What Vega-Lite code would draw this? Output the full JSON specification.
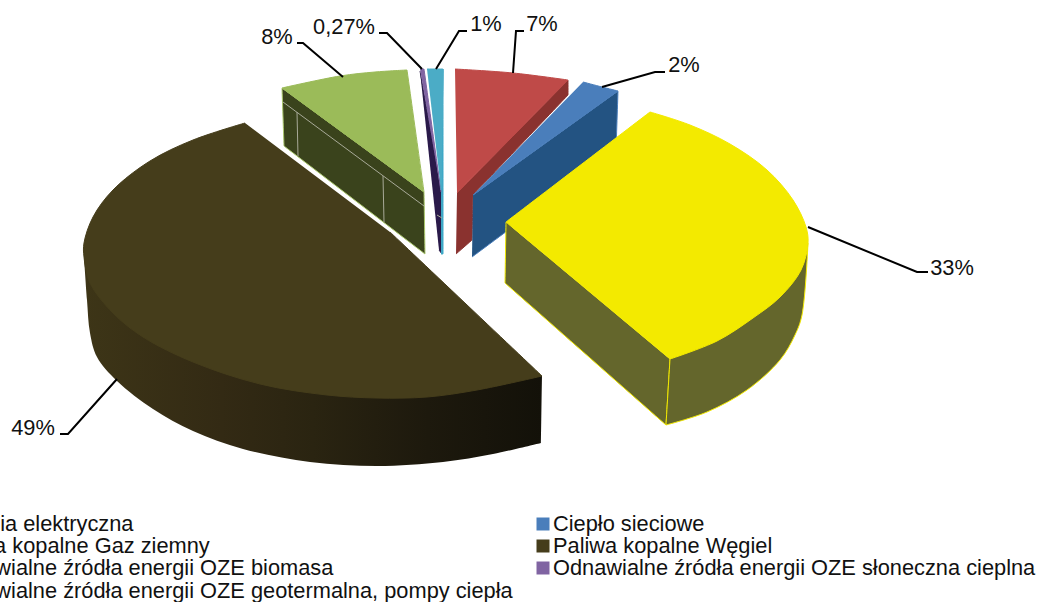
{"$schema":"https://vega.github.io/schema/vega-lite/v6.json","width":1037,"height":602,"padding":0,"autosize":"none","background":"white","config":{"view":{"stroke":null}},
"resolve":{"scale":{"fill":"independent","stroke":"independent"}},
"datasets":{
"shapes":[
{"part":"brownSide","seq":1,"x":84,"y":257},{"part":"brownSide","seq":2,"x":87,"y":300},{"part":"brownSide","seq":3,"x":90,"y":333},{"part":"brownSide","seq":4,"x":97,"y":357},{"part":"brownSide","seq":5,"x":117,"y":381},{"part":"brownSide","seq":6,"x":153,"y":409},{"part":"brownSide","seq":7,"x":193,"y":431},{"part":"brownSide","seq":8,"x":243,"y":449},{"part":"brownSide","seq":9,"x":310,"y":462},{"part":"brownSide","seq":10,"x":377,"y":466},{"part":"brownSide","seq":11,"x":443,"y":462},{"part":"brownSide","seq":12,"x":493,"y":454},{"part":"brownSide","seq":13,"x":541,"y":443},{"part":"brownSide","seq":14,"x":541,"y":443},{"part":"brownSide","seq":15,"x":542,"y":376},{"part":"brownSide","seq":16,"x":542,"y":376},{"part":"brownSide","seq":17,"x":150,"y":300},{"part":"brownSide","seq":18,"x":150,"y":300},
{"part":"brownTop","seq":1,"x":245,"y":123},{"part":"brownTop","seq":2,"x":245,"y":123},{"part":"brownTop","seq":3,"x":193,"y":140},{"part":"brownTop","seq":4,"x":150,"y":161},{"part":"brownTop","seq":5,"x":113,"y":190},{"part":"brownTop","seq":6,"x":93,"y":217},{"part":"brownTop","seq":7,"x":84,"y":243},{"part":"brownTop","seq":8,"x":84,"y":257},{"part":"brownTop","seq":9,"x":90,"y":283},{"part":"brownTop","seq":10,"x":113,"y":313},{"part":"brownTop","seq":11,"x":143,"y":337},{"part":"brownTop","seq":12,"x":193,"y":362},{"part":"brownTop","seq":13,"x":260,"y":384},{"part":"brownTop","seq":14,"x":327,"y":395},{"part":"brownTop","seq":15,"x":377,"y":398},{"part":"brownTop","seq":16,"x":427,"y":397},{"part":"brownTop","seq":17,"x":477,"y":390},{"part":"brownTop","seq":18,"x":542,"y":376},{"part":"brownTop","seq":19,"x":542,"y":376},{"part":"brownTop","seq":20,"x":390,"y":232},{"part":"brownTop","seq":21,"x":390,"y":232},
{"part":"greenSide","seq":1,"x":282,"y":88},{"part":"greenSide","seq":2,"x":282,"y":88},{"part":"greenSide","seq":3,"x":284,"y":146},{"part":"greenSide","seq":4,"x":284,"y":146},{"part":"greenSide","seq":5,"x":425,"y":254},{"part":"greenSide","seq":6,"x":425,"y":254},{"part":"greenSide","seq":7,"x":424,"y":192},{"part":"greenSide","seq":8,"x":424,"y":192},{"part":"greenSide","seq":9,"x":282,"y":88},{"part":"greenSide","seq":10,"x":282,"y":88},
{"part":"greenTop","seq":1,"x":282,"y":88},{"part":"greenTop","seq":2,"x":282,"y":88},{"part":"greenTop","seq":3,"x":340,"y":76},{"part":"greenTop","seq":4,"x":375,"y":72},{"part":"greenTop","seq":5,"x":407,"y":70},{"part":"greenTop","seq":6,"x":407,"y":70},{"part":"greenTop","seq":7,"x":424,"y":192},{"part":"greenTop","seq":8,"x":424,"y":192},{"part":"greenTop","seq":9,"x":282,"y":88},{"part":"greenTop","seq":10,"x":282,"y":88},
{"part":"redSide","seq":1,"x":457,"y":193},{"part":"redSide","seq":2,"x":457,"y":193},{"part":"redSide","seq":3,"x":568,"y":80},{"part":"redSide","seq":4,"x":568,"y":80},{"part":"redSide","seq":5,"x":568,"y":95},{"part":"redSide","seq":6,"x":568,"y":95},{"part":"redSide","seq":7,"x":473,"y":195},{"part":"redSide","seq":8,"x":473,"y":195},{"part":"redSide","seq":9,"x":472,"y":240},{"part":"redSide","seq":10,"x":472,"y":240},{"part":"redSide","seq":11,"x":456,"y":254},{"part":"redSide","seq":12,"x":456,"y":254},
{"part":"redTop","seq":1,"x":455,"y":69},{"part":"redTop","seq":2,"x":455,"y":69},{"part":"redTop","seq":3,"x":513,"y":73},{"part":"redTop","seq":4,"x":568,"y":80},{"part":"redTop","seq":5,"x":568,"y":80},{"part":"redTop","seq":6,"x":457,"y":193},{"part":"redTop","seq":7,"x":457,"y":193},
{"part":"purpleSide","seq":1,"x":420,"y":71},{"part":"purpleSide","seq":2,"x":420,"y":71},{"part":"purpleSide","seq":3,"x":441,"y":190},{"part":"purpleSide","seq":4,"x":441,"y":190},{"part":"purpleSide","seq":5,"x":442,"y":254},{"part":"purpleSide","seq":6,"x":442,"y":254},{"part":"purpleSide","seq":7,"x":439,"y":250},{"part":"purpleSide","seq":8,"x":439,"y":250},
{"part":"cyanSide","seq":1,"x":441,"y":190},{"part":"cyanSide","seq":2,"x":441,"y":190},{"part":"cyanSide","seq":3,"x":443,"y":69},{"part":"cyanSide","seq":4,"x":443,"y":69},{"part":"cyanSide","seq":5,"x":443,"y":254},{"part":"cyanSide","seq":6,"x":443,"y":254},{"part":"cyanSide","seq":7,"x":441,"y":254},{"part":"cyanSide","seq":8,"x":441,"y":254},
{"part":"purpleTop","seq":1,"x":420,"y":69},{"part":"purpleTop","seq":2,"x":420,"y":69},{"part":"purpleTop","seq":3,"x":424,"y":69},{"part":"purpleTop","seq":4,"x":424,"y":69},{"part":"purpleTop","seq":5,"x":441,"y":192},{"part":"purpleTop","seq":6,"x":441,"y":192},
{"part":"cyanTop","seq":1,"x":427,"y":69},{"part":"cyanTop","seq":2,"x":427,"y":69},{"part":"cyanTop","seq":3,"x":443,"y":69},{"part":"cyanTop","seq":4,"x":443,"y":69},{"part":"cyanTop","seq":5,"x":441,"y":190},{"part":"cyanTop","seq":6,"x":441,"y":190},
{"part":"blueSide","seq":1,"x":473,"y":195},{"part":"blueSide","seq":2,"x":473,"y":195},{"part":"blueSide","seq":3,"x":618,"y":91},{"part":"blueSide","seq":4,"x":618,"y":91},{"part":"blueSide","seq":5,"x":616,"y":150},{"part":"blueSide","seq":6,"x":616,"y":150},{"part":"blueSide","seq":7,"x":472,"y":257},{"part":"blueSide","seq":8,"x":472,"y":257},
{"part":"blueTop","seq":1,"x":583,"y":82},{"part":"blueTop","seq":2,"x":583,"y":82},{"part":"blueTop","seq":3,"x":602,"y":87},{"part":"blueTop","seq":4,"x":618,"y":91},{"part":"blueTop","seq":5,"x":618,"y":91},{"part":"blueTop","seq":6,"x":473,"y":195},{"part":"blueTop","seq":7,"x":473,"y":195},
{"part":"yellowLeft","seq":1,"x":506,"y":222},{"part":"yellowLeft","seq":2,"x":506,"y":222},{"part":"yellowLeft","seq":3,"x":505,"y":283},{"part":"yellowLeft","seq":4,"x":505,"y":283},{"part":"yellowLeft","seq":5,"x":666,"y":425},{"part":"yellowLeft","seq":6,"x":666,"y":425},{"part":"yellowLeft","seq":7,"x":670,"y":359},{"part":"yellowLeft","seq":8,"x":670,"y":359},{"part":"yellowLeft","seq":9,"x":506,"y":222},{"part":"yellowLeft","seq":10,"x":506,"y":222},
{"part":"yellowRight","seq":1,"x":670,"y":359},{"part":"yellowRight","seq":2,"x":670,"y":359},{"part":"yellowRight","seq":3,"x":666,"y":425},{"part":"yellowRight","seq":4,"x":666,"y":425},{"part":"yellowRight","seq":5,"x":707,"y":412},{"part":"yellowRight","seq":6,"x":747,"y":390},{"part":"yellowRight","seq":7,"x":780,"y":360},{"part":"yellowRight","seq":8,"x":795,"y":335},{"part":"yellowRight","seq":9,"x":802,"y":315},{"part":"yellowRight","seq":10,"x":808,"y":243},{"part":"yellowRight","seq":11,"x":808,"y":243},{"part":"yellowRight","seq":12,"x":670,"y":359},{"part":"yellowRight","seq":13,"x":670,"y":359},
{"part":"yellowTop","seq":1,"x":506,"y":222},{"part":"yellowTop","seq":2,"x":506,"y":222},{"part":"yellowTop","seq":3,"x":650,"y":112},{"part":"yellowTop","seq":4,"x":650,"y":112},{"part":"yellowTop","seq":5,"x":690,"y":125},{"part":"yellowTop","seq":6,"x":730,"y":144},{"part":"yellowTop","seq":7,"x":767,"y":170},{"part":"yellowTop","seq":8,"x":793,"y":200},{"part":"yellowTop","seq":9,"x":806,"y":227},{"part":"yellowTop","seq":10,"x":808,"y":243},{"part":"yellowTop","seq":11,"x":801,"y":270},{"part":"yellowTop","seq":12,"x":780,"y":297},{"part":"yellowTop","seq":13,"x":753,"y":318},{"part":"yellowTop","seq":14,"x":717,"y":341},{"part":"yellowTop","seq":15,"x":670,"y":359},{"part":"yellowTop","seq":16,"x":670,"y":359}
],
"wires":[
{"line":"a","seq":1,"x":283,"y":102},{"line":"a","seq":2,"x":424,"y":206},
{"line":"b","seq":1,"x":297,"y":112},{"line":"b","seq":2,"x":298,"y":156},
{"line":"c","seq":1,"x":383,"y":176},{"line":"c","seq":2,"x":384,"y":222},
{"line":"d","seq":1,"x":437,"y":215},{"line":"d","seq":2,"x":442,"y":218}
],
"leaders":[
{"label":"8%","seq":1,"x":297,"y":43},{"label":"8%","seq":2,"x":303,"y":43},{"label":"8%","seq":3,"x":343,"y":77},
{"label":"0,27%","seq":1,"x":379,"y":33},{"label":"0,27%","seq":2,"x":387,"y":33},{"label":"0,27%","seq":3,"x":422,"y":69},
{"label":"1%","seq":1,"x":467,"y":31},{"label":"1%","seq":2,"x":459,"y":31},{"label":"1%","seq":3,"x":436,"y":69},
{"label":"7%","seq":1,"x":524,"y":31},{"label":"7%","seq":2,"x":516,"y":31},{"label":"7%","seq":3,"x":513,"y":73},
{"label":"2%","seq":1,"x":665,"y":72},{"label":"2%","seq":2,"x":655,"y":72},{"label":"2%","seq":3,"x":602,"y":87},
{"label":"33%","seq":1,"x":808,"y":227},{"label":"33%","seq":2,"x":917,"y":272},{"label":"33%","seq":3,"x":928,"y":272},
{"label":"49%","seq":1,"x":60,"y":434},{"label":"49%","seq":2,"x":68,"y":434},{"label":"49%","seq":3,"x":117,"y":379}
],
"labels":[
{"label":"8%","x":277,"y":37},{"label":"0,27%","x":344,"y":27},{"label":"1%","x":486,"y":24},{"label":"7%","x":542,"y":24},{"label":"2%","x":684,"y":65},{"label":"33%","x":952,"y":268},{"label":"49%","x":33,"y":428}
],
"legend":[
{"name":"Energia elektryczna","sx":-68,"tx":-58,"y":524},
{"name":"Ciepło sieciowe","sx":543,"tx":553,"y":524},
{"name":"Paliwa kopalne Gaz ziemny","sx":-68,"tx":-58,"y":546},
{"name":"Paliwa kopalne Węgiel","sx":543,"tx":553,"y":546},
{"name":"Odnawialne źródła energii OZE biomasa","sx":-68,"tx":-58,"y":568},
{"name":"Odnawialne źródła energii OZE słoneczna cieplna","sx":543,"tx":553,"y":568},
{"name":"Odnawialne źródła energii OZE geotermalna, pompy ciepła","sx":-68,"tx":-58,"y":591}
]
},
"encoding":{
"x":{"field":"x","type":"quantitative","scale":{"domain":[0,1037],"nice":false,"zero":false},"axis":null},
"y":{"field":"y","type":"quantitative","scale":{"domain":[602,0],"nice":false,"zero":false},"axis":null}
},
"layer":[
{"data":{"name":"shapes"},"transform":[{"filter":"datum.part === 'brownSide'"}],
"mark":{"type":"line","interpolate":"catmull-rom","strokeWidth":0,"fill":{"gradient":"linear","x1":0,"y1":0,"x2":1,"y2":0,"stops":[{"offset":0,"color":"#3d3517"},{"offset":0.3,"color":"#332a14"},{"offset":0.5,"color":"#2a2411"},{"offset":0.75,"color":"#1d190d"},{"offset":1,"color":"#131109"}]}},
"encoding":{"order":{"field":"seq","type":"quantitative"}}},
{"data":{"name":"shapes"},"transform":[{"filter":"datum.part !== 'brownSide'"}],
"mark":{"type":"line","interpolate":"catmull-rom","strokeWidth":1},
"encoding":{"order":{"field":"seq","type":"quantitative"},
"fill":{"field":"part","type":"nominal","legend":null,"sort":null,"scale":{"domain":["brownTop","greenSide","greenTop","redSide","redTop","purpleSide","cyanSide","purpleTop","cyanTop","blueSide","blueTop","yellowLeft","yellowRight","yellowTop"],"range":["#453d1b","#3a431c","#9bbb59","#8a322f","#bf4a48","#2a1a4a","#3fa8c6","#8064a2","#4bacc6","#235382","#4a7ebb","#64662c","#64662c","#f3ea00"]}},
"stroke":{"field":"part","type":"nominal","legend":null,"sort":null,"scale":{"domain":["brownTop","greenSide","greenTop","redSide","redTop","purpleSide","cyanSide","purpleTop","cyanTop","blueSide","blueTop","yellowLeft","yellowRight","yellowTop"],"range":["#453d1b","#a9c76a","#9bbb59","#8a322f","#bf4a48","#2a1a4a","#3fa8c6","#8064a2","#4bacc6","#4a7ebb","#4a7ebb","#f3ea00","#f3ea00","#f3ea00"]}}}},
{"data":{"name":"wires"},"mark":{"type":"line","stroke":"#a8aa98","strokeWidth":1},"encoding":{"detail":{"field":"line"},"order":{"field":"seq","type":"quantitative"}}},
{"data":{"name":"leaders"},"mark":{"type":"line","stroke":"#000000","strokeWidth":2},"encoding":{"detail":{"field":"label"},"order":{"field":"seq","type":"quantitative"}}},
{"data":{"name":"labels"},"mark":{"type":"text","font":"Liberation Sans","fontSize":21.8,"align":"center","baseline":"middle","fill":"#111111"},"encoding":{"text":{"field":"label"}}},
{"data":{"name":"legend"},"mark":{"type":"point","shape":"square","filled":true,"size":169,"opacity":1,"clip":true},"encoding":{"x":{"field":"sx","type":"quantitative"},"fill":{"field":"name","type":"nominal","legend":null,"scale":{"domain":["Energia elektryczna","Ciepło sieciowe","Paliwa kopalne Gaz ziemny","Paliwa kopalne Węgiel","Odnawialne źródła energii OZE biomasa","Odnawialne źródła energii OZE słoneczna cieplna","Odnawialne źródła energii OZE geotermalna, pompy ciepła"],"range":["#c0504d","#4a7ebb","#98b954","#453d1b","#9bbb59","#8064a2","#4bacc6"]}}}},
{"data":{"name":"legend"},"mark":{"type":"text","font":"Liberation Sans","fontSize":21.8,"align":"left","baseline":"middle","fill":"#111111","clip":true},"encoding":{"x":{"field":"tx","type":"quantitative"},"text":{"field":"name"}}}
]}
